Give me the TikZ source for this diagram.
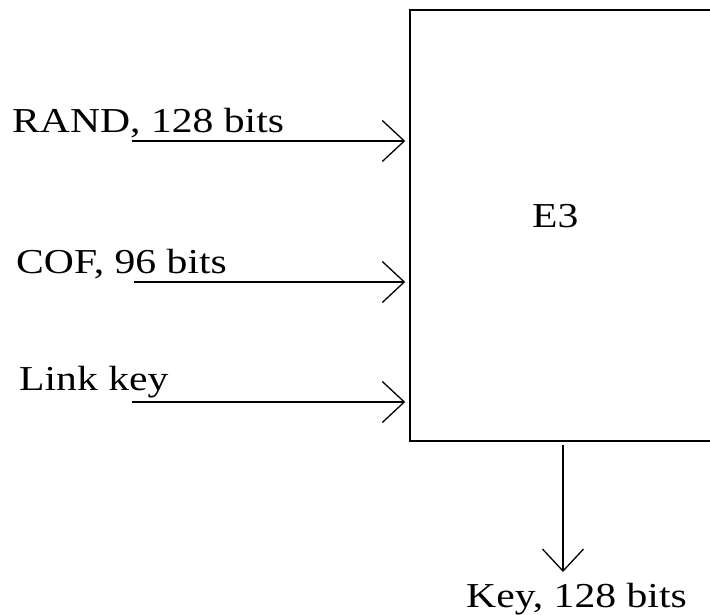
\documentclass[tikz,border=0pt]{standalone}
\usepackage{fontspec}
\setmainfont{Liberation Serif}
\usetikzlibrary{arrows.meta}
\tikzset{
  lbl/.style={inner sep=0pt, anchor=base west, font=\fontsize{35pt}{42pt}\selectfont},
  arr/.style={line width=1.3pt, -{Straight Barb[length=22pt,width=41pt,line width=1.3pt]}},
  blk/.style={draw, line width=1.5pt, minimum width=320pt, minimum height=431pt, inner sep=0pt}
}
\newcommand{\wide}[1]{\scalebox{1.19}[1]{#1}}
\begin{document}
\begin{tikzpicture}[x=1pt,y=-1pt]
\useasboundingbox (0,0) rectangle (710,615);
\clip (0,0) rectangle (710,615);
\node[blk] (e3) at (570,225.5) {};
\node[lbl] (e3t) at (532,228) {\wide{E3}};
\node[lbl] (rand) at (12,133) {\wide{RAND, 128 bits}};
\node[lbl] (cof) at (16,273) {\wide{COF, 96 bits}};
\node[lbl] (link) at (19,390) {\wide{Link key}};
\node[lbl] (key) at (466,607) {\wide{Key, 128 bits}};
\coordinate (r0) at (132,141);
\coordinate (c0) at (134,282);
\coordinate (l0) at (132,402);
\coordinate (o0) at (563,441);
\coordinate (o1) at (563,572);
\draw[arr, shorten >=4pt] (r0) -- (r0 -| e3.west);
\draw[arr, shorten >=4pt] (c0) -- (c0 -| e3.west);
\draw[arr, shorten >=4pt] (l0) -- (l0 -| e3.west);
\draw[arr, shorten <=4pt] (o0) -- (o1);
\end{tikzpicture}
\end{document}
